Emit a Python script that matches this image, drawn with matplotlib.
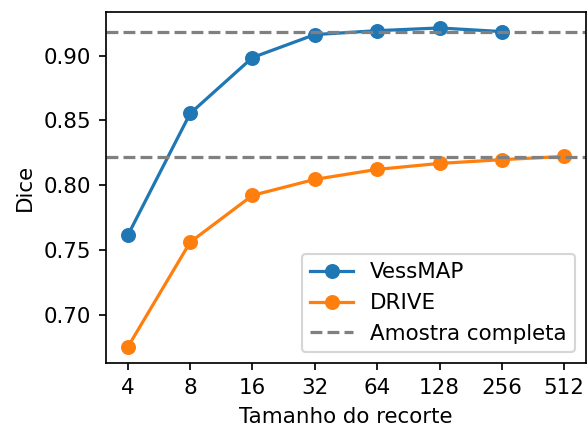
import matplotlib
matplotlib.use("Agg")
import matplotlib.pyplot as plt

sizes = [4, 8, 16, 32, 64, 128, 256, 512]
vessmap_sizes = [4, 8, 16, 32, 64, 128, 256]
vessmap_dice = [0.7615, 0.8554, 0.8985, 0.9162, 0.9192, 0.9213, 0.9185]
drive_dice = [0.6754, 0.7562, 0.7923, 0.8046, 0.8123, 0.8169, 0.8198, 0.8223]
vessmap_full = 0.9183
drive_full = 0.8222

dpi = 154
fig = plt.figure(figsize=(587 / dpi, 428 / dpi), dpi=dpi)
ax = fig.add_axes([106 / 587, 1 - 363 / 428, (586 - 106) / 587, (363 - 12) / 428])

ax.plot(vessmap_sizes, vessmap_dice, "-o", color="#1f77b4", label="VessMAP")
ax.plot(sizes, drive_dice, "-o", color="#ff7f0e", label="DRIVE")
ax.axhline(vessmap_full, color="gray", linestyle="--", label="Amostra completa")
ax.axhline(drive_full, color="gray", linestyle="--")

ax.set_xscale("log", base=2)
ax.set_xticks(sizes)
ax.set_xticklabels([str(s) for s in sizes])
ax.minorticks_off()
ax.set_xlabel("Tamanho do recorte")
ax.set_ylabel("Dice")
ax.legend(loc="lower right")

fig.savefig("out.png", dpi=dpi)
